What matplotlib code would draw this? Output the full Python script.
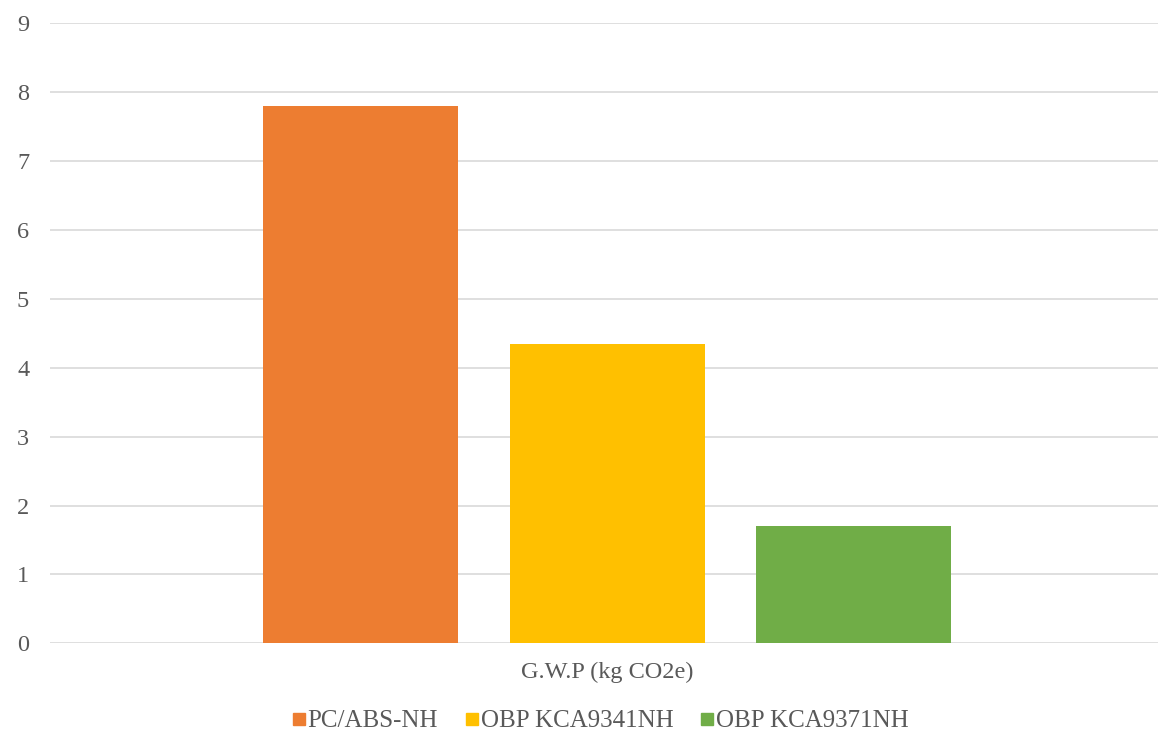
import matplotlib.pyplot as plt
from matplotlib.lines import Line2D

# GWP per material, one bar each
materiales = ['PC/ABS-NH', 'OBP KCA9341NH', 'OBP KCA9371NH']
gwp = [7.8, 4.35, 1.7]
colores = ['#ED7D31', '#FFC000', '#70AD47']
categoria = 'G.W.P (kg CO2e)'
yticks = list(range(0, 10))

plt.rcParams['font.family'] = ['Liberation Serif', 'DejaVu Serif']

fig = plt.figure(figsize=(11.58, 7.34), dpi=100)
ax = fig.add_axes([50 / 1158, 1 - 643.3 / 734, 1 - 50 / 1158, (643.3 - 23.3) / 734])

posiciones = [-1, 0, 1]
for x, v, c in zip(posiciones, gwp, colores):
    ax.bar(x, v, width=0.79, color=c, zorder=3)

ax.set_xlim(-2.258, 2.233)
ax.set_ylim(0, 9)
ax.set_yticks(yticks)
ax.set_xticks([0])
ax.set_xticklabels([categoria])
ax.grid(axis='y', color='#d9d9d9', linewidth=1.2, zorder=0)
for s in ax.spines.values():
    s.set_visible(False)
ax.tick_params(axis='both', length=0, labelsize=17.5, colors='#595959')
ax.tick_params(axis='y', pad=15)
ax.tick_params(axis='x', pad=13)

handles = [Line2D([], [], linestyle='none', marker='s', markersize=8.6,
                  markerfacecolor=c, markeredgecolor=c) for c in colores]
fig.legend(handles, materiales, loc='center', bbox_to_anchor=(0.5186, 1 - 721 / 734),
           ncol=3, frameon=False, fontsize=18, handlelength=0.48, handletextpad=0.12,
           columnspacing=1.1, labelcolor='#595959', borderpad=0)

fig.savefig('out.png', dpi=100)
